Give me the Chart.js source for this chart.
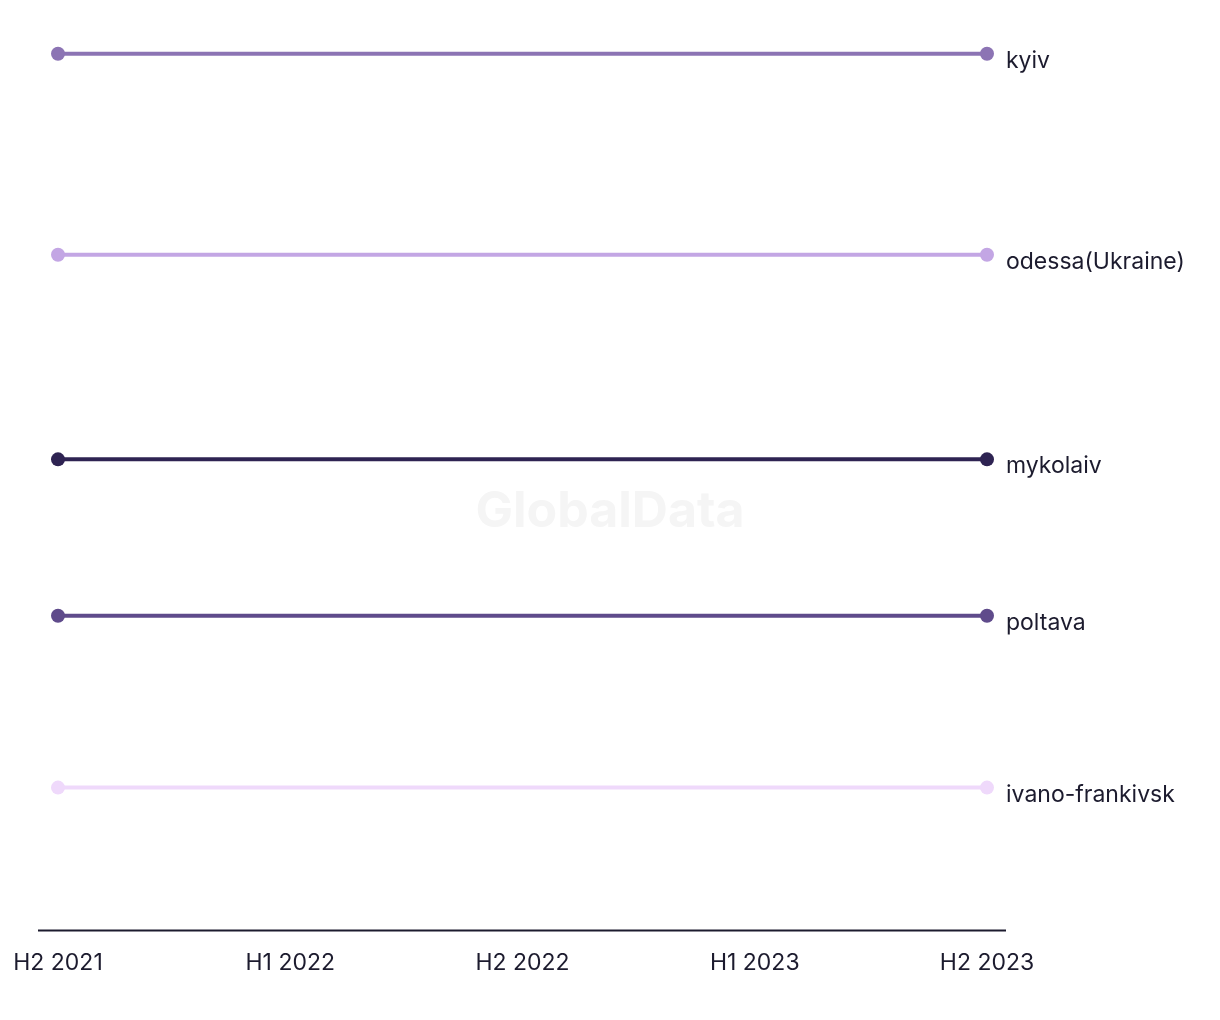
<!DOCTYPE html>
<html>
<head>
<meta charset="utf-8">
<script src="https://cdn.jsdelivr.net/npm/chart.js@4/dist/chart.umd.min.js"></script>
<style>
  body { margin: 0; background: #fff; }
  .wrap { width: 1220px; height: 1020px; position: relative; }
</style>
</head>
<body>
<div class="wrap"><canvas id="myChart"></canvas></div>
<script>
const periods = ['H2 2021', 'H1 2022', 'H2 2022', 'H1 2023', 'H2 2023']
const cities = ['kyiv', 'odessa(Ukraine)', 'mykolaiv', 'poltava', 'ivano-frankivsk']
const kyiv = [96.4, 96.4, 96.4, 96.4, 96.4]
const odessa = [74.3, 74.3, 74.3, 74.3, 74.3]
const mykolaiv = [51.8, 51.8, 51.8, 51.8, 51.8]
const poltava = [34.6, 34.6, 34.6, 34.6, 34.6]
const ivano = [15.7, 15.7, 15.7, 15.7, 15.7]
const colors = ['#8c74b4', '#c3a6e4', '#2e2352', '#5f4b8b', '#efd9fb']

const font = 'Inter, "Noto Sans", sans-serif'
const ink = '#1c1b2e'

const endLabels = {
  id: 'endLabels',
  afterDatasetsDraw (chart) {
    const c = chart.ctx
    c.save()
    c.font = '23px ' + font
    c.fillStyle = ink
    c.textBaseline = 'middle'
    chart.data.datasets.forEach((ds, i) => {
      const pts = chart.getDatasetMeta(i).data
      const last = pts[pts.length - 1]
      c.fillText(ds.label, last.x + 19, last.y + 7)
    })
    c.restore()
  }
}

const axisLine = {
  id: 'axisLine',
  beforeDatasetsDraw (chart) {
    const { ctx: c, chartArea: a } = chart
    c.save()
    c.strokeStyle = ink
    c.lineWidth = 2
    c.beginPath()
    c.moveTo(a.left - 20, a.bottom)
    c.lineTo(a.right + 19, a.bottom)
    c.stroke()
    c.restore()
  }
}

const watermark = {
  id: 'watermark',
  beforeDatasetsDraw (chart) {
    const c = chart.ctx
    c.save()
    c.font = 'bold 50px ' + font
    c.fillStyle = '#f5f5f5'
    c.textAlign = 'center'
    c.textBaseline = 'middle'
    c.fillText('GlobalData', 610, 512)
    c.restore()
  }
}

const ctx = document.getElementById('myChart')
new Chart(ctx, {
  type: 'line',
  data: {
    labels: periods,
    datasets: [kyiv, odessa, mykolaiv, poltava, ivano].map((d, i) => ({
      label: cities[i],
      data: d,
      borderColor: colors[i],
      backgroundColor: colors[i],
      borderWidth: 4,
      pointRadius: (p) => (p.dataIndex === 0 || p.dataIndex === periods.length - 1) ? 7 : 0,
      pointHoverRadius: 0,
      pointBorderWidth: 0
    }))
  },
  options: {
    responsive: true,
    maintainAspectRatio: false,
    animation: false,
    layout: { padding: { left: 58, right: 233, top: 21, bottom: 32 } },
    plugins: { legend: { display: false }, tooltip: { enabled: false } },
    scales: {
      x: {
        grid: { display: false },
        border: { display: false },
        ticks: { color: ink, font: { family: font, size: 23 }, padding: 11, maxRotation: 0 }
      },
      y: {
        display: false,
        min: 0,
        max: 100
      }
    }
  },
  plugins: [watermark, axisLine, endLabels]
})
</script>
</body>
</html>
